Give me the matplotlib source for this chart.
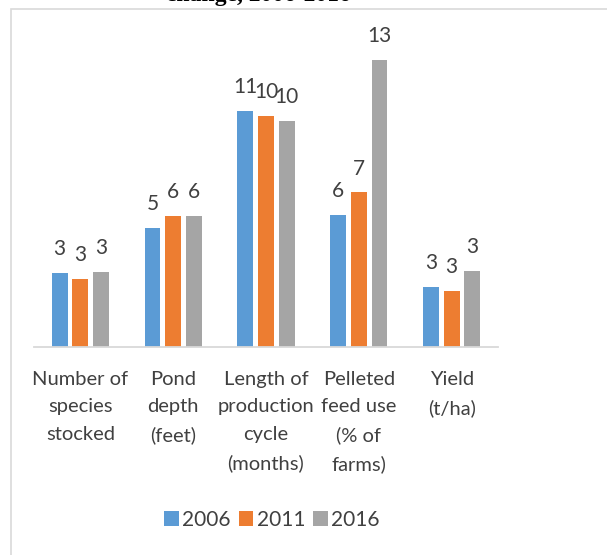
import matplotlib.pyplot as plt
import matplotlib.patches as patches
import numpy as np

categories = ['Number of\nspecies\nstocked', 'Pond\ndepth\n(feet)',
              'Length of\nproduction\ncycle\n(months)', 'Pelleted\nfeed use\n(% of\nfarms)',
              'Yield\n(t/ha)']
years = ['2006', '2011', '2016']
v2006 = [3.35, 5.4, 10.7, 6.0, 2.7]
v2011 = [3.1, 5.95, 10.45, 7.0, 2.55]
v2016 = [3.4, 5.95, 10.25, 13.0, 3.45]
colors = ['#5B9BD5', '#ED7D31', '#A5A5A5']

W, H = 607, 555
fig = plt.figure(figsize=(W/100, H/100), dpi=100)
plt.rcParams['font.family'] = ['Lato', 'DejaVu Sans']

# plot area in pixels: x 34..498, baseline at 347
ax = fig.add_axes([34/W, 1-347/H, 464/W, 327/H])

x = np.arange(len(categories))
w = 0.172
step = 0.223
for i, (vals, c, yr) in enumerate(zip([v2006, v2011, v2016], colors, years)):
    bars = ax.bar(x + (i-1)*step, vals, width=w, color=c, label=yr)
    ax.bar_label(bars, labels=[str(round(v)) for v in vals], padding=10,
                 fontsize=15, color='#404040')

ax.set_xlim(-0.5, 4.5)
ax.set_ylim(0, 327/22.08)
ax.set_xticks(x)
ax.set_xticklabels(categories, fontsize=14.5, color='#404040', linespacing=1.75)
ax.tick_params(axis='x', length=0, pad=17)
ax.set_yticks([])
for s in ['top', 'right', 'left']:
    ax.spines[s].set_visible(False)
ax.spines['bottom'].set_color('#D9D9D9')
ax.spines['bottom'].set_linewidth(1.3)

fig.legend(loc='center', bbox_to_anchor=(272/W, 1-520/H), ncol=3, frameon=False,
           fontsize=15, handlelength=0.7, handleheight=0.7, handletextpad=0.15,
           columnspacing=0.4, labelcolor='#404040')

# chart frame
fig.add_artist(patches.Rectangle((10.5/W, -0.1), 1.0, 1.1-8.5/H, transform=fig.transFigure,
                                 fill=False, ec='#D9D9D9', lw=1.2))

# title cut off at top
fig.text(258/W, 1-0.5/H, 'change, 2006-2016', ha='center', va='baseline',
         fontsize=17, fontweight='bold', family='Liberation Serif', color='black')

fig.savefig('out.png', dpi=100)
